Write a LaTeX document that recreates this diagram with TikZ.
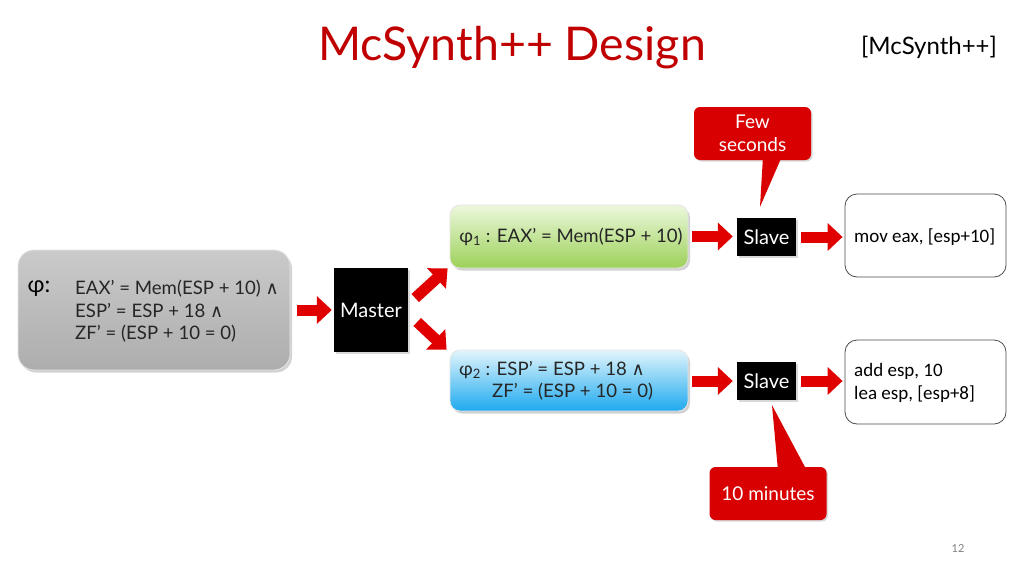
\documentclass[tikz,border=0pt]{standalone}
\usepackage{fontspec}
\setmainfont{Lato}
\newfontfamily\codefont{Carlito}
\newfontfamily\symfont{DejaVu Sans}
\usetikzlibrary{arrows.meta,shadows,calc}
\definecolor{titlered}{HTML}{C00000}
\definecolor{arrowred}{HTML}{E00000}
\definecolor{calloutred}{HTML}{D80000}
\definecolor{graytop}{HTML}{CACACA}
\definecolor{graybot}{HTML}{ADADAD}
\definecolor{greentop}{HTML}{ECF7DC}
\definecolor{greenbot}{HTML}{9CD159}
\definecolor{bluetop}{HTML}{E2F5FC}
\definecolor{bluebot}{HTML}{1DA9EF}
\newcommand{\andsym}{{\symfont\fontsize{18}{18}\selectfont ∧}}
\begin{document}
\begin{tikzpicture}[x=1pt,y=-1pt,
  fs/.style={font=\fontsize{#1}{#1}\selectfont},
  formula/.style={rounded corners=#1, draw=white!80!gray, line width=0.8pt,
     drop shadow={shadow xshift=2pt, shadow yshift=-2.5pt, opacity=0.35}},
  ftext/.style={inner sep=0pt, font=\fontsize{18.6}{22.5}\selectfont, text=black!85},
  blackbox/.style={fill=black, text=white, inner sep=0pt,
     font=\fontsize{20}{24}\selectfont,
     drop shadow={shadow xshift=1.5pt, shadow yshift=-1.5pt, opacity=0.3}},
  codebox/.style={draw=black!70, line width=0.8pt, rounded corners=12pt, fill=white,
     minimum width=161pt, inner sep=0pt},
  codetext/.style={align=left, inner sep=0pt, font=\codefont\fontsize{19}{23}\selectfont},
  bigarrow/.style={draw=arrowred, line width=11pt, -{Triangle[width=27pt,length=15pt]}},
  callout/.style={fill=calloutred, rounded corners=6pt, text=white, align=center,
     font=\fontsize{19}{23}\selectfont, minimum width=117pt, minimum height=53pt, inner sep=0pt,
     drop shadow={shadow xshift=1.5pt, shadow yshift=-1.5pt, opacity=0.3}},
  tail/.style={fill=calloutred}
]
\useasboundingbox[fill=white] (0,0) rectangle (1024,576);

% titles
\node[text=titlered, fs=46.5, inner sep=0pt] (title) at (512,48) {McSynth++ Design};
\node[fs=24, inner sep=0pt] (ref) at (929,47) {[McSynth++]};

% main formula box
\node[formula=16pt, top color=graytop, bottom color=graybot,
      minimum width=272pt, minimum height=120pt] (phi) at (154,310) {};
\node[fs=23, inner sep=0pt] (philabel) at (39,289) {φ:};
\node[ftext, align=left, anchor=west] (phitext) at (75,311.5)
  {EAX’ = Mem(ESP + 10) \andsym\\ESP’ = ESP + 18 \andsym\\ZF’ = (ESP + 10 = 0)};

% master
\node[blackbox, minimum width=74pt, minimum height=84pt] (master) at (371,310) {Master};

% sub-formula boxes
\node[formula=10pt, top color=greentop, bottom color=greenbot,
      minimum width=238pt, minimum height=63pt] (green) at (569,236.5) {};
\node[ftext] (greentext) at (571,237) {φ\textsubscript{1} : EAX’ = Mem(ESP + 10)};

\node[formula=10pt, top color=bluetop, bottom color=bluebot,
      minimum width=238pt, minimum height=61pt] (blue) at (569,380.5) {};
\node[ftext, anchor=west] (bluetext1) at (459,370) {φ\textsubscript{2} : ESP’ = ESP + 18 \andsym};
\node[ftext, anchor=west] (bluetext2) at (492,392) {ZF’ = (ESP + 10 = 0)};

% slaves
\node[blackbox, minimum width=59pt, minimum height=38pt] (slave1) at (766.5,237) {Slave};
\node[blackbox, minimum width=59pt, minimum height=38pt] (slave2) at (766.5,381) {Slave};

% code boxes
\node[codebox, minimum height=83pt] (code1) at (925.5,235.5) {};
\node[codetext, anchor=west] (code1text) at (854,237) {mov eax, [esp+10]};
\node[codebox, minimum height=84pt] (code2) at (925.5,382) {};
\node[codetext, anchor=west] (code2text) at (854,383) {add esp, 10\\lea esp, [esp+8]};

% arrows
\draw[bigarrow, shorten <=7pt, shorten >=2pt] (phi.east) -- (master.west);
\draw[bigarrow] ($(master.east)+(7,-12)$) -- ($(green.south west)+(-2,0)$);
\draw[bigarrow] ($(master.east)+(9,12)$) -- ($(blue.north west)+(-3,0)$);
\draw[bigarrow, shorten <=4pt, shorten >=4pt] (green.east) -- (green.east -| slave1.west);
\draw[bigarrow, shorten <=5pt, shorten >=2pt] (slave1.east) -- (slave1.east -| code1.west);
\draw[bigarrow, shorten <=4pt, shorten >=4pt] (blue.east |- slave2.west) -- (slave2.west);
\draw[bigarrow, shorten <=5pt, shorten >=2pt] (slave2.east) -- (slave2.east -| code2.west);

% callouts
\node[callout] (few) at (752.5,133.5) {Few\\seconds};
\coordinate (fewtip) at ($(slave1.north)+(-6.5,-11)$);
\fill[tail] ($(few.south)+(10.5,-4)$) -- (fewtip) -- ($(few.south)+(29.5,-4)$) -- cycle;

\node[callout] (ten) at (768,493.5) {10 minutes};
\coordinate (tentip) at ($(slave2.south)+(5.5,5)$);
\fill[tail] ($(ten.north)+(10,4)$) -- (tentip) -- ($(ten.north)+(39,4)$) -- cycle;

% page number
\node[text=gray, fs=11, inner sep=0pt] (page) at (958,549) {12};
\end{tikzpicture}
\end{document}
